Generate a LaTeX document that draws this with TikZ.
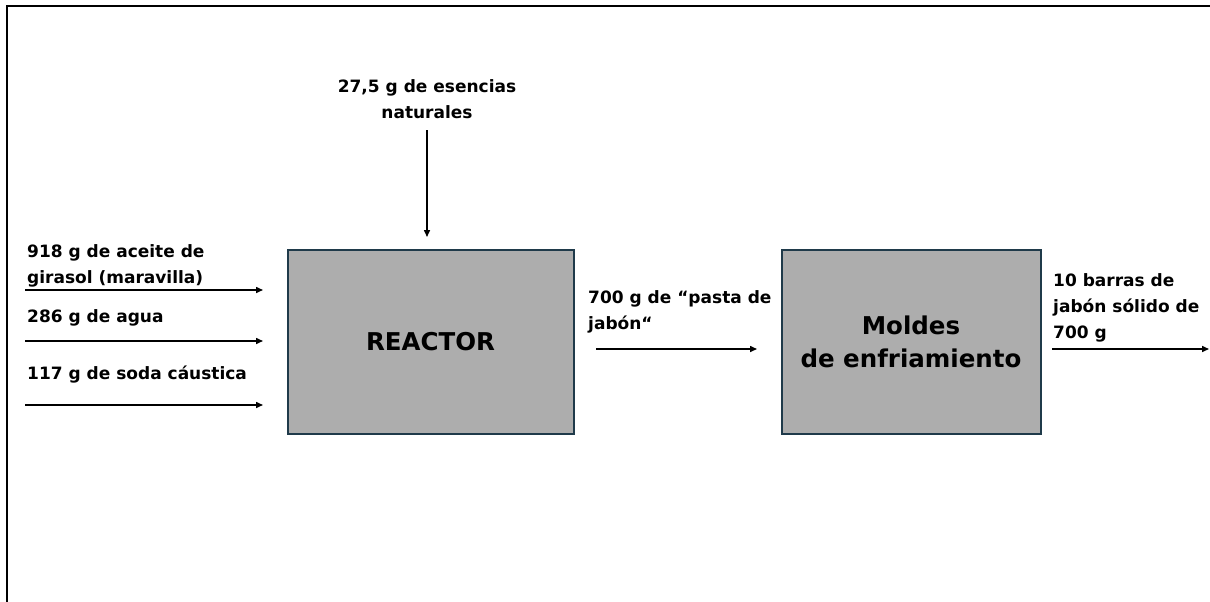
\documentclass[tikz,border=0pt]{standalone}
\usepackage{fontspec}
\setmainfont{DejaVu Sans}
\usetikzlibrary{positioning}
\usetikzlibrary{arrows.meta}
\definecolor{boxfill}{HTML}{ADADAD}
\definecolor{boxedge}{HTML}{1F3A4A}

\begin{document}
\begin{tikzpicture}[
x=1pt, y=-1pt,
>={Triangle[length=7pt,width=6pt]},
procnode/.style={rectangle, draw=boxedge, fill=boxfill, line width=2pt, minimum height=184pt, font=\fontsize{24.5}{33}\selectfont\bfseries, align=center},
flowlabel/.style={inner sep=0pt, font=\fontsize{17}{26}\selectfont\bfseries, align=left},
flow/.style={->, line width=1.5pt},
]
\useasboundingbox (0,0) rectangle (1210,602);

%Frame
\draw[line width=2pt] (1210,6) -- (6.5,6) -- (6.5,602);

%Nodes
\node[procnode, minimum width=286pt] (reactor) at (430.5,341.5) {REACTOR};
\node[procnode, minimum width=259pt] (moldes) [right=206pt of reactor] {Moldes\\de enfriamiento};

\node[flowlabel, align=center, anchor=north] (esencias) at (427,79) {27,5 g de esencias\\naturales};
\node[flowlabel, anchor=north west] (aceite) at (27,244) {918 g de aceite de\\girasol (maravilla)};
\node[flowlabel, anchor=north west] (agua)   at (27,309) {286 g de agua};
\node[flowlabel, anchor=north west] (soda)   at (27,366) {117 g de soda cáustica};
\node[flowlabel, anchor=north west] (pasta)  at (588,290) {700 g de “pasta de\\jabón“};
\node[flowlabel, anchor=north west] (barras) at (1053,273) {10 barras de\\jabón sólido de\\700 g};

%Ends
\coordinate (esc-a) at (427,130);
\coordinate (esc-b) at (427,237);
\coordinate (in1-a) at (25,290);
\coordinate (in1-b) at (263,290);
\coordinate (in2-a) at (25,341);
\coordinate (in2-b) at (263,341);
\coordinate (in3-a) at (25,405);
\coordinate (in3-b) at (263,405);
\coordinate (mid-a) at (596,349);
\coordinate (mid-b) at (757,349);
\coordinate (out-a) at (1052,349);
\coordinate (out-b) at (1209,349);

%Lines
\draw[flow] (esc-a) -- (esc-b);
\draw[flow] (in1-a) -- (in1-b);
\draw[flow] (in2-a) -- (in2-b);
\draw[flow] (in3-a) -- (in3-b);
\draw[flow] (mid-a) -- (mid-b);
\draw[flow] (out-a) -- (out-b);
\end{tikzpicture}
\end{document}
